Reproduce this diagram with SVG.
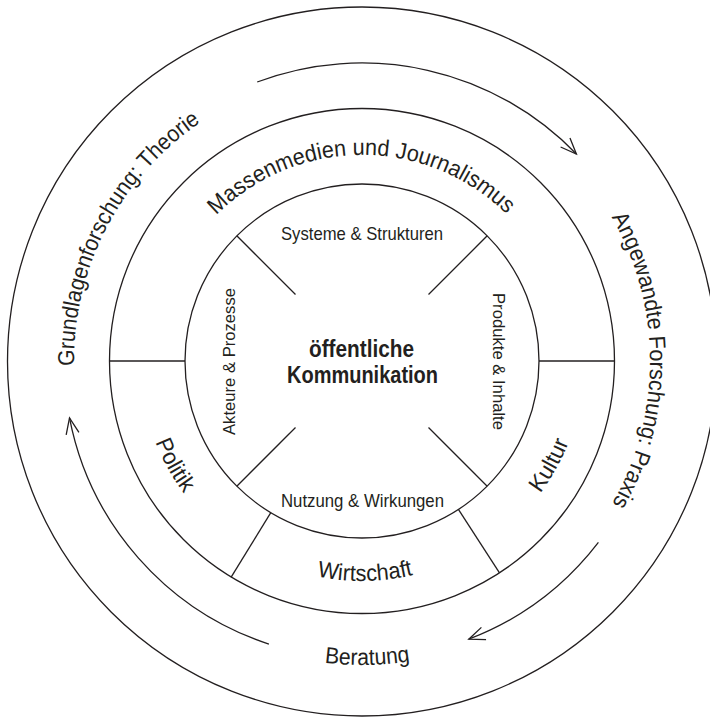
<svg xmlns="http://www.w3.org/2000/svg" width="710" height="718" viewBox="0 0 710 718">
<style>
.ln{fill:none;stroke:#231f20;stroke-width:1.3}
.t{fill:#231f20;font-family:"Liberation Sans",Arial,sans-serif}
.big{font-size:23px}
.sm{font-size:18.5px}
.ax{font-size:16.7px}
.bold{font-size:23px;font-weight:bold}
</style>
<defs>
<marker id="arr" viewBox="-20 -10 22 20" markerWidth="22" markerHeight="20" refX="0" refY="0" orient="auto" markerUnits="userSpaceOnUse">
<path d="M-16,-6.5 L0,0 L-16,6.5" fill="none" stroke="#231f20" stroke-width="1.3"/>
</marker>
<path id="pMass" d="M216.3,215.3 A206,206 0 0 1 507.7,215.3"/>
<path id="pGrund" d="M74.1,366 A288,288 0 0 1 201,122.2"/>
<path id="pAng" d="M611.4,217 A288,288 0 0 1 611.4,505"/>
<path id="pBer" d="M324.4,662.7 A304,304 0 0 0 410.1,661.2"/>
<path id="pWirt" d="M317,576.4 A220,220 0 0 0 413,575"/>
<path id="pPol" d="M155.3,442 A222,222 0 0 0 183.8,493.4"/>
<path id="pKul" d="M540.2,493.4 A222,222 0 0 0 568.7,442"/>
</defs>

<g id="outer-ring">
<circle class="ln" cx="362" cy="361.5" r="354.5"/>
<text class="t big"><textPath href="#pGrund" textLength="286" lengthAdjust="spacingAndGlyphs">Grundlagenforschung: Theorie</textPath></text>
<text class="t big"><textPath href="#pAng" textLength="300" lengthAdjust="spacingAndGlyphs">Angewandte Forschung: Praxis</textPath></text>
<text class="t big"><textPath href="#pBer" textLength="86" lengthAdjust="spacingAndGlyphs">Beratung</textPath></text>
</g>

<g id="middle-ring">
<circle class="ln" cx="362" cy="361" r="252.5"/>
<line class="ln" x1="109.5" y1="361" x2="185" y2="361"/>
<line class="ln" x1="539" y1="361" x2="614.5" y2="361"/>
<line class="ln" x1="270.8" y1="512.7" x2="231" y2="577.4"/>
<line class="ln" x1="458.4" y1="509.4" x2="499.5" y2="572.8"/>
<text class="t big"><textPath href="#pMass" textLength="322" lengthAdjust="spacingAndGlyphs">Massenmedien und Journalismus</textPath></text>
<text class="t big"><textPath href="#pPol" textLength="59" lengthAdjust="spacingAndGlyphs">Politik</textPath></text>
<text class="t big"><textPath href="#pWirt" textLength="97" lengthAdjust="spacingAndGlyphs">Wirtschaft</textPath></text>
<text class="t big"><textPath href="#pKul" textLength="59" lengthAdjust="spacingAndGlyphs">Kultur</textPath></text>
</g>

<g id="inner-circle">
<circle class="ln" cx="362" cy="361" r="177"/>
<line class="ln" x1="295.5" y1="294.5" x2="236.8" y2="235.8"/>
<line class="ln" x1="428.5" y1="294.5" x2="487.2" y2="235.8"/>
<line class="ln" x1="295.5" y1="427.5" x2="236.8" y2="486.2"/>
<line class="ln" x1="428.5" y1="427.5" x2="487.2" y2="486.2"/>
<text class="t sm" x="281" y="240" textLength="162" lengthAdjust="spacingAndGlyphs">Systeme &amp; Strukturen</text>
<text class="t sm" x="281" y="507" textLength="163" lengthAdjust="spacingAndGlyphs">Nutzung &amp; Wirkungen</text>
<text class="t ax" transform="translate(235,435) rotate(-90)" textLength="147" lengthAdjust="spacingAndGlyphs">Akteure &amp; Prozesse</text>
<text class="t ax" transform="translate(493,293) rotate(90)" textLength="137" lengthAdjust="spacingAndGlyphs">Produkte &amp; Inhalte</text>
</g>

<g id="center">
<text class="t bold" x="309" y="357" textLength="105" lengthAdjust="spacingAndGlyphs">öffentliche</text>
<text class="t bold" x="287" y="383" textLength="151" lengthAdjust="spacingAndGlyphs">Kommunikation</text>
</g>

<g id="connectors">
<path class="ln" d="M257.2,82 A298,298 0 0 1 576.4,154" marker-end="url(#arr)"/>
<path class="ln" d="M598.4,542.4 A298,298 0 0 1 468.8,639.2" marker-end="url(#arr)"/>
<path class="ln" d="M268.9,644.1 A298,298 0 0 1 69.5,417.9" marker-end="url(#arr)"/>
</g>
</svg>
